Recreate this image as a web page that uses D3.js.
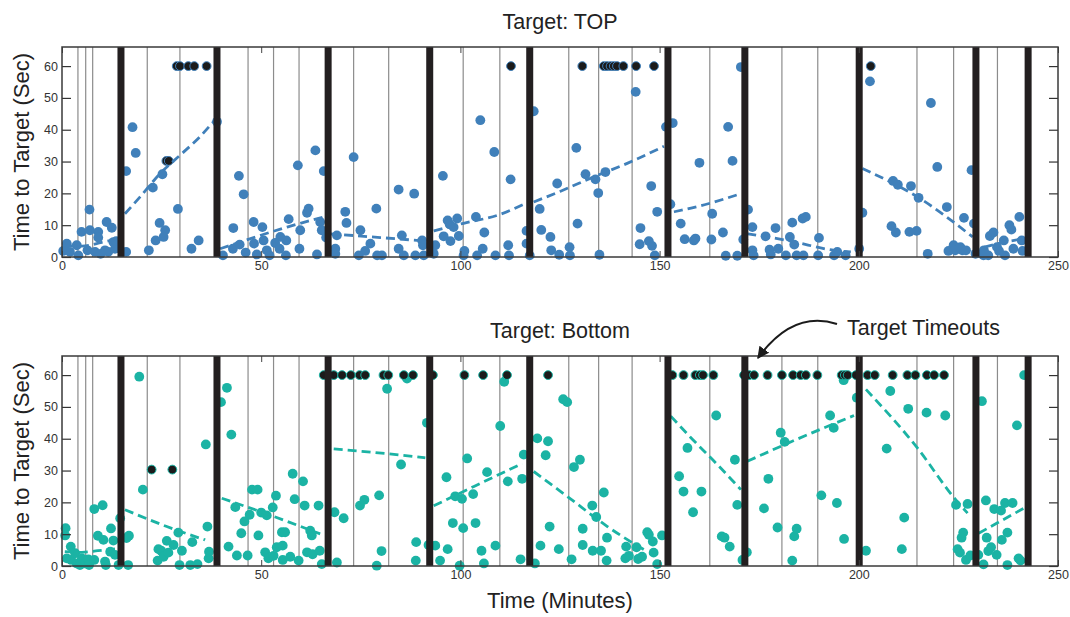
<!DOCTYPE html>
<html>
<head>
<meta charset="utf-8">
<script src="https://cdn.jsdelivr.net/npm/d3@7"></script>
<style>
  html, body { margin: 0; padding: 0; background: #fff; }
  svg { display: block; font-family: "Liberation Sans", Arial, Helvetica, sans-serif; }
</style>
</head>
<body>
<svg id="chart" width="1070" height="617"></svg>
<script>
// Session structure: thin lines mark trial boundaries, thick bars mark block changes (minutes)
const trialLines = [4.0, 5.95, 7.7, 21.4, 29.6, 46.7, 53.1, 59.5, 73.2, 82.0, 100.7, 109.9,
  127.2, 134.7, 143.1, 162.6, 180.7, 189.7, 214.6, 223.8, 234.8];
const blockBars = [14.8, 38.9, 66.8, 92.3, 117.4, 152.1, 171.4, 200.1, 229.4, 242.5];

const xTicks = [0, 50, 100, 150, 200, 250];
const yTicks = [0, 10, 20, 30, 40, 50, 60];

// Target: TOP — time to reach the target [minute, seconds]
const topPoints = [
  [0.3,1.9],[1.2,4.2],[2.0,1.6],[3.7,3.7],[4.1,0.5],[4.9,7.9],[6.9,14.9],[7.0,8.4],[6.4,2.1],[8.3,1.6],
  [9.1,7.9],[9.1,6.1],[9.7,1.0],[10.8,2.1],[11.2,11.0],[11.6,1.6],[12.5,9.2],[12.9,4.7],[13.3,2.6],[13.6,5.0],
  [16.1,1.6],[16.1,27.0],[17.7,40.8],[18.5,32.7],[21.8,2.1],[22.8,21.8],[23.5,5.2],[24.5,10.7],[25.2,26.0],
  [25.9,8.4],[25.5,6.3],[29.1,15.1],[32.5,2.6],[34.3,5.2],[38.9,42.5],
  [40.4,0.5],[42.9,2.6],[43.0,9.1],[44.4,25.5],[45.6,19.7],[44.6,3.9],[46.1,1.4],[48.1,11.0],[48.2,4.2],
  [48.9,0.8],[50.3,9.4],[50.6,5.2],[51.4,2.1],[52.1,0.5],[53.5,4.4],[54.8,6.3],[54.6,2.6],[56.3,5.2],
  [56.2,0.5],[56.9,11.9],[59.2,28.8],[59.8,8.4],[59.6,2.6],[61.5,13.9],[61.9,15.2],[63.6,33.5],[64.0,0.8],
  [64.8,11.0],[65.2,8.4],[65.7,27.0],[66.3,6.1],
  [68.6,2.6],[68.6,1.0],[69.0,6.8],[71.1,14.2],[71.4,10.7],[73.2,31.4],[74.5,0.5],[74.9,8.4],[76.1,1.9],
  [77.4,4.2],[78.9,15.2],[79.1,0.5],[80.3,0.5],[84.5,21.2],[84.5,2.6],[85.3,6.8],[85.8,0.5],[88.4,19.9],
  [88.7,0.5],[90.4,5.2],[90.6,3.7],[90.8,0.5],
  [93.7,3.7],[93.3,1.0],[95.6,25.5],[95.8,6.5],[96.8,11.5],[97.3,10.3],[97.5,5.0],[98.3,9.4],[99.2,12.1],
  [99.6,6.6],[101.0,1.9],[100.8,0.5],[103.9,12.6],[104.2,0.5],[105.0,43.0],[105.6,2.6],[106.0,7.7],
  [108.5,33.0],[108.8,0.5],[112.0,3.7],[112.2,0.5],[112.6,24.4],[116.6,8.2],[116.6,4.2],[117.4,0.5],
  [118.4,45.8],[119.9,15.1],[120.3,8.5],[122.6,6.3],[122.8,2.1],[124.3,23.1],[124.8,0.7],[127.4,3.1],
  [127.5,0.5],[129.1,34.3],[129.4,10.5],[131.4,26.0],[133.9,24.4],[134.6,20.1],[134.9,0.7],[136.4,26.7],
  [144.0,51.9],[145.0,4.0],[145.2,9.1],[147.3,5.0],[147.9,22.3],[148.1,3.5],[148.8,0.5],[149.4,14.2],[151.6,40.9],
  [153.3,42.1],[152.7,16.6],[155.3,10.5],[156.3,5.6],[158.6,5.2],[159.0,5.8],[160.0,29.6],[163.2,13.6],
  [163.0,5.5],[165.9,7.7],[166.6,0.4],[167.2,40.9],[168.3,30.2],[169.5,0.4],[170.4,59.7],
  [172.2,14.9],[171.0,5.5],[173.3,9.4],[173.3,2.1],[173.6,0.5],[176.6,6.5],[177.6,2.3],[177.9,0.8],
  [179.1,9.1],[179.8,2.6],[181.7,0.5],[182.7,6.3],[183.3,10.8],[183.8,3.9],[184.4,0.5],[185.9,12.1],
  [186.7,12.6],[186.1,0.5],[190.0,6.0],[189.8,0.5],[193.8,0.5],[194.6,1.6],[196.7,0.5],
  [200.1,2.6],[200.9,13.9],[202.8,55.2],[208.2,9.7],[208.6,23.9],[209.3,7.7],[209.8,22.7],[212.7,7.9],
  [213.1,22.3],[214.5,8.2],[215.0,18.6],[217.3,1.0],[218.1,48.4],[219.7,28.3],[222.1,15.7],[222.5,1.9],
  [223.8,3.7],[224.2,2.1],[225.5,3.1],[226.0,2.1],[226.9,2.1],[226.4,12.3],[228.3,27.3],[228.9,10.5],[229.3,1.0],
  [231.3,0.5],[231.4,2.1],[232.5,0.5],[232.9,6.6],[233.8,7.7],[234.7,3.1],[235.2,1.9],[236.4,5.2],[236.7,0.5],
  [237.8,10.0],[238.3,8.6],[238.8,2.6],[240.3,12.6],[240.9,5.2],[241.1,1.9]
];
// Target: TOP — trials that timed out
const topTimeouts = [
  [26.2,30.2],[26.8,30.2],[28.8,60],[29.6,60],[31.7,60],[33.2,60],[36.3,60],[112.7,60],[130.6,60],
  [136.0,60],[136.8,60],[137.7,60],[138.5,60],[139.3,60],[140.9,60],[144.1,60],[148.6,60],[203.0,60]
];
// Target: TOP — per-block trend curves
const topTrend = [
  [[1,3.6],[5,3.4],[10,4.6],[13.7,5.6]],
  [[15.8,13.6],[19.6,18.9],[24.6,26.2],[30.1,32.5],[34.7,37.9],[38.0,42.5]],
  [[39.7,2.6],[48.1,6.1],[56.5,9.4],[65.7,12.6]],
  [[67.3,7.3],[79.9,6.1],[91.5,5.0]],
  [[93.3,8.2],[100.8,10.6],[110.0,13.4],[116.3,16.8]],
  [[118.4,17.3],[125.0,20.6],[133.5,25.2],[142.0,29.5],[151.1,34.8]],
  [[153.6,14.2],[160.0,16.0],[170.4,19.9]],
  [[172.0,7.3],[182.9,5.0],[193.8,2.1],[198.0,1.6]],
  [[200.9,27.8],[214.7,18.9],[228.6,6.3]],
  [[231.5,3.1],[236.0,4.5],[241.5,5.8]]
];

// Target: Bottom — time to reach the target [minute, seconds]
const bottomPoints = [
  [0.8,9.6],[0.9,11.9],[1.2,2.4],[2.2,6.1],[2.3,1.9],[3.3,4.0],[3.7,0.8],[4.5,0.3],[5.0,2.4],[5.8,0.8],
  [6.6,2.1],[6.8,0.3],[8.1,17.9],[8.1,1.9],[9.0,9.5],[10.2,19.1],[10.4,8.2],[10.8,1.4],[11.0,0.3],[12.1,4.5],
  [12.3,11.8],[12.9,8.0],[13.3,3.5],[14.6,15.0],[14.2,0.3],
  [16.2,8.8],[16.8,9.5],[16.6,0.3],[19.4,59.5],[20.3,24.0],[24.0,1.7],[24.2,5.3],[24.9,4.8],[25.5,2.9],
  [26.3,7.9],[26.7,4.2],[28.0,6.6],[29.2,10.5],[29.5,0.3],[30.1,4.8],[32.2,0.3],[32.7,7.5],[34.0,0.6],
  [36.1,38.2],[36.5,12.4],[36.8,2.4],[36.9,4.5],
  [39.9,51.5],[41.4,56.0],[42.5,41.3],[41.8,6.1],[43.5,18.5],[43.9,3.3],[45.0,10.3],[45.8,14.0],[46.6,3.3],
  [47.1,16.1],[47.7,24.0],[49.1,24.0],[49.3,9.6],[50.0,16.8],[51.0,4.3],[51.4,15.9],[51.8,2.4],[52.9,18.4],
  [53.1,3.2],[53.7,22.1],[53.9,5.9],[55.2,10.6],[56.0,10.6],[55.4,6.4],[55.4,1.9],[57.3,2.9],[57.9,29.0],
  [58.4,21.0],[59.4,1.7],[60.5,26.6],[60.9,19.0],[61.5,4.3],[62.3,11.1],[62.7,9.6],[62.9,3.7],[64.4,19.0],
  [64.7,4.8],[65.2,0.6],
  [68.4,16.9],[69.0,1.1],[70.7,15.0],[74.8,19.0],[75.9,20.8],[79.6,22.2],[80.2,4.7],[79.0,0.1],[81.6,55.7],
  [85.1,31.9],[86.6,58.9],[88.9,7.5],[88.8,1.7],[91.6,45.0],[92.0,6.6],
  [93.7,6.4],[94.9,1.7],[96.5,27.9],[96.8,5.3],[98.1,13.5],[98.7,21.9],[100.4,21.1],[100.7,11.9],[99.8,0.1],
  [101.7,33.8],[103.2,22.6],[103.8,13.5],[105.3,4.8],[105.9,0.8],[106.7,29.5],[108.8,6.4],[110.0,44.0],
  [111.0,57.9],[111.9,26.6],[115.1,2.1],[115.5,27.4],[115.9,35.0],
  [118.7,0.8],[119.3,40.1],[120.1,6.4],[121.4,34.8],[122.0,39.2],[122.4,12.4],[124.7,5.3],[125.8,52.4],
  [126.8,51.5],[127.9,2.1],[128.5,31.1],[130.0,33.4],[130.7,6.6],[130.7,11.7],[133.1,19.0],[133.2,4.8],
  [134.1,15.4],[135.3,4.8],[136.0,23.1],[136.7,1.7],[136.8,8.9],[141.6,6.1],[141.4,2.4],[142.3,3.2],
  [144.2,5.9],[144.6,2.2],[145.6,2.9],[146.9,10.6],[147.3,9.8],[148.3,7.7],[148.5,4.2],[149.4,0.6],[150.6,9.6],
  [154.9,28.2],[156.0,23.4],[157.0,37.1],[158.4,16.9],[160.5,23.4],[164.2,47.3],[165.6,9.3],[166.3,8.9],
  [167.6,6.1],[168.9,33.4],[169.5,19.2],[170.8,1.9],
  [171.9,4.3],[176.2,18.1],[177.3,27.4],[179.6,12.1],[180.4,41.9],[181.4,39.0],[183.3,1.7],[183.8,9.3],
  [184.4,11.7],[190.6,22.2],[192.8,47.3],[193.7,43.4],[194.5,19.8],[196.3,8.5],[196.2,58.4],[199.5,52.9],
  [201.8,4.8],[207.0,36.9],[207.9,55.0],[211.4,15.2],[210.8,5.3],[212.4,49.4],[217.0,48.2],[221.7,47.3],
  [224.4,19.2],[227.3,19.5],[225.8,8.9],[226.2,10.5],[224.8,5.3],[225.4,4.2],[226.9,1.9],[228.0,3.3],
  [230.0,3.5],[230.9,51.8],[231.3,0.5],[231.9,20.6],[232.1,8.9],[232.5,4.7],[233.2,5.9],[234.0,17.9],
  [234.6,3.5],[235.7,17.4],[235.9,8.2],[236.7,19.8],[237.3,10.5],[237.3,0.3],[238.6,19.8],[239.7,44.2],
  [240.1,2.4],[240.6,1.7],[241.5,60.0]
];
// Target: Bottom — trials that timed out
const bottomTimeouts = [
  [22.5,30.3],[27.7,30.3],
  [65.7,60],[68.2,60],[70.3,60],[72.5,60],[74.7,60],[76.1,60],[80.7,60],[81.9,60],[85.8,60],[88.1,60],
  [93.1,60],[101.0,60],[105.7,60],[111.7,60],[122.0,60],
  [153.2,60],[156.0,60],[159.0,60],[160.1,60],[160.9,60],[163.5,60],
  [171.2,60],[172.5,60],[173.7,60],[177.1,60],[180.7,60],[183.5,60],[185.4,60],[186.7,60],[189.6,60],
  [195.7,60],[196.5,60],[197.2,60],[199.3,60],[202.2,60],[204.0,60],[208.5,60],[212.2,60],[214.2,60],
  [217.1,60],[218.9,60],[221.4,60]
];
// Target: Bottom — per-block trend curves
const bottomTrend = [
  [[0.7,4.5],[5.0,4.3],[9.0,4.8],[13.3,5.4]],
  [[15.8,17.7],[26.3,12.4],[35.9,8.2]],
  [[40.1,21.3],[53.1,15.6],[64.8,10.1]],
  [[68.2,36.8],[81.6,35.3],[91.2,34.0]],
  [[93.3,18.9],[103.4,25.0],[115.5,32.2]],
  [[118.4,29.7],[126.8,21.9],[136.9,12.4],[146.9,4.5]],
  [[152.8,47.1],[157.8,40.4],[164.1,32.4],[170.4,24.0]],
  [[172.0,32.9],[183.3,39.2],[198.8,47.3]],
  [[201.8,55.5],[214.7,37.1],[224.0,21.3],[227.3,16.6]],
  [[230.1,10.3],[241.5,18.2]]
];

const panels = [
  { title: "Target: TOP", top: 47, bottom: 257, color: "#4080ba",
    points: topPoints, timeouts: topTimeouts, trend: topTrend },
  { title: "Target: Bottom", top: 356, bottom: 566, color: "#1bb3a4",
    points: bottomPoints, timeouts: bottomTimeouts, trend: bottomTrend }
];

const svg = d3.select("#chart");
const left = 62, right = 1058;
const x = d3.scaleLinear().domain([0, 250]).range([left, right]);

panels.forEach((p, i) => {
  const y = d3.scaleLinear().domain([0, 66]).range([p.bottom, p.top]);
  const g = svg.append("g");

  // thin trial boundaries
  g.append("g").selectAll("line").data(trialLines).join("line")
    .attr("x1", d => x(d)).attr("x2", d => x(d))
    .attr("y1", p.top).attr("y2", p.bottom)
    .attr("stroke", "#8c8c8c").attr("stroke-width", 1.2);

  // completed trials
  g.append("g").selectAll("circle").data(p.points).join("circle")
    .attr("cx", d => x(d[0])).attr("cy", d => y(d[1]))
    .attr("r", 4.9).attr("fill", p.color);

  // timed-out trials
  g.append("g").selectAll("circle").data(p.timeouts).join("circle")
    .attr("cx", d => x(d[0])).attr("cy", d => y(d[1]))
    .attr("r", 4.4).attr("fill", "#1b1b1b")
    .attr("stroke", p.color).attr("stroke-width", 1);

  // per-block trend
  const line = d3.line().x(d => x(d[0])).y(d => y(d[1])).curve(d3.curveMonotoneX);
  g.append("g").selectAll("path").data(p.trend).join("path")
    .attr("d", line).attr("fill", "none")
    .attr("stroke", p.color).attr("stroke-width", 2.8)
    .attr("stroke-dasharray", "9,5");

  // block changes
  g.append("g").selectAll("rect").data(blockBars).join("rect")
    .attr("x", d => x(d) - 3.5).attr("width", 7)
    .attr("y", p.top).attr("height", p.bottom - p.top)
    .attr("fill", "#231f20");

  // axes
  const tickFont = sel => sel.selectAll("text")
    .attr("fill", "#333").style("font-size", "12.5px")
    .style("font-family", '"Liberation Sans", Arial, sans-serif');

  const yAxis = g.append("g").attr("transform", `translate(${left},0)`)
    .call(d3.axisLeft(y).tickValues(yTicks).tickSize(-9).tickPadding(4));
  yAxis.select(".domain").remove();
  yAxis.selectAll("line").attr("stroke", "#333").attr("stroke-width", 1.2);
  tickFont(yAxis);

  const yAxisR = g.append("g").attr("transform", `translate(${right},0)`)
    .call(d3.axisRight(y).tickValues(yTicks).tickSize(-9).tickFormat(""));
  yAxisR.select(".domain").remove();
  yAxisR.selectAll("line").attr("stroke", "#333").attr("stroke-width", 1.2);

  const xAxis = g.append("g").attr("transform", `translate(0,${p.bottom})`)
    .call(d3.axisBottom(x).tickValues(xTicks).tickSize(-6).tickPadding(4));
  xAxis.select(".domain").remove();
  xAxis.selectAll("line").attr("stroke", "#444").attr("stroke-width", 1);
  tickFont(xAxis);

  const xAxisT = g.append("g").attr("transform", `translate(0,${p.top})`)
    .call(d3.axisTop(x).tickValues(xTicks).tickSize(-6).tickFormat(""));
  xAxisT.select(".domain").remove();
  xAxisT.selectAll("line").attr("stroke", "#444").attr("stroke-width", 1);

  // frame
  g.append("rect")
    .attr("x", left).attr("y", p.top)
    .attr("width", right - left).attr("height", p.bottom - p.top)
    .attr("fill", "none").attr("stroke", "#3a3a3a").attr("stroke-width", 1.5);

  // titles
  g.append("text")
    .attr("x", (left + right) / 2).attr("y", p.top - 18)
    .attr("text-anchor", "middle").attr("fill", "#222")
    .style("font-size", "21.5px").text(p.title);

  g.append("text")
    .attr("transform", `translate(29,${(p.top + p.bottom) / 2}) rotate(-90)`)
    .attr("text-anchor", "middle").attr("fill", "#222")
    .style("font-size", "22px").text("Time to Target (Sec)");
});

// x axis label
svg.append("text")
  .attr("x", (left + right) / 2).attr("y", 608)
  .attr("text-anchor", "middle").attr("fill", "#222")
  .style("font-size", "22px").text("Time (Minutes)");

// timeout annotation
const defs = svg.append("defs");
defs.append("marker")
  .attr("id", "arrowhead").attr("viewBox", "0 0 10 10")
  .attr("refX", 9).attr("refY", 5)
  .attr("markerWidth", 6).attr("markerHeight", 6)
  .attr("markerUnits", "strokeWidth")
  .attr("orient", "auto")
  .append("path").attr("d", "M0,0 L10,5 L0,10 Z").attr("fill", "#1b1b1b");

svg.append("path")
  .attr("d", "M837,324 C812,316 784,322 758,358")
  .attr("fill", "none").attr("stroke", "#1b1b1b").attr("stroke-width", 2)
  .attr("marker-end", "url(#arrowhead)");

svg.append("text")
  .attr("x", 847).attr("y", 335)
  .attr("fill", "#222").style("font-size", "21.5px")
  .text("Target Timeouts");
</script>
</body>
</html>
